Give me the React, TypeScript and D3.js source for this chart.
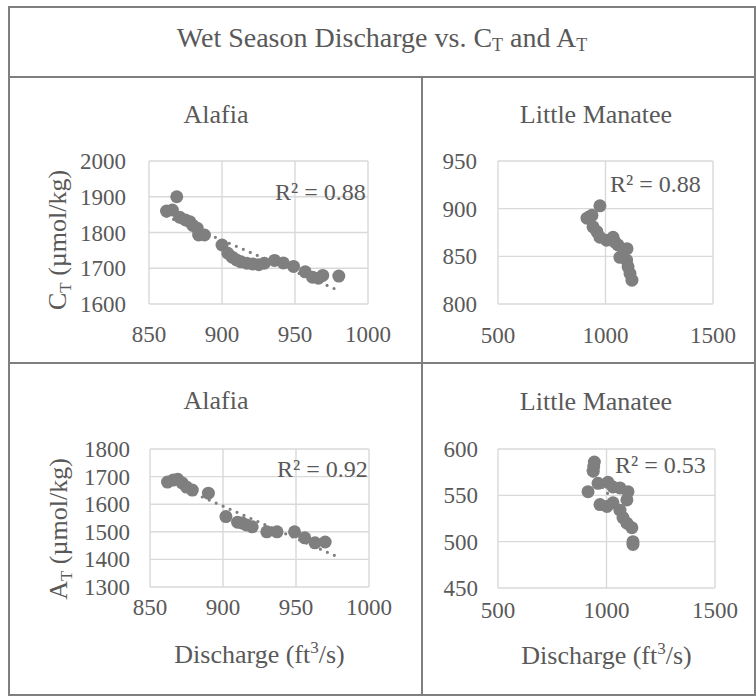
import React from "react";
import * as d3 from "d3";

// ---------- data ----------
const alafiaQ_CT = [862, 866, 869, 871, 875, 878, 880, 883, 884, 888, 900, 904, 907, 910, 913, 917, 921, 925, 929, 936, 942, 949, 957, 962, 966, 969, 980];
const alafiaCT = [1860, 1863, 1900, 1843, 1835, 1830, 1820, 1812, 1793, 1793, 1765, 1742, 1731, 1723, 1718, 1714, 1712, 1710, 1714, 1722, 1715, 1705, 1690, 1675, 1672, 1680, 1678];

const manateeQ_CT = [914, 937, 942, 960, 974, 974, 1005, 1035, 1044, 1058, 1067, 1098, 1100, 1105, 1114, 1123];
const manateeCT = [890, 893, 881, 876, 903, 870, 867, 870, 865, 862, 849, 846, 858, 839, 832, 825];

const alafiaQ_AT = [862, 866, 869, 872, 875, 879, 890, 902, 910, 913, 916, 920, 930, 937, 949, 956, 963, 970];
const alafiaAT = [1680, 1688, 1690, 1677, 1662, 1651, 1640, 1555, 1535, 1532, 1525, 1518, 1500, 1500, 1500, 1478, 1460, 1463];

const manateeQ_AT = [939, 941, 944, 915, 961, 1007, 1030, 1062, 1099, 970, 1002, 1030, 1094, 1062, 1076, 1094, 1117, 1122, 1122];
const manateeAT = [576, 581, 586, 554, 563, 564, 559, 558, 554, 540, 538, 542, 545, 534, 526, 520, 515, 500, 497];

const alafiaXTicks = [850, 900, 950, 1000];
const manateeXTicks = [500, 1000, 1500];
const alafiaCTTicks = [1600, 1700, 1800, 1900, 2000];
const manateeCTTicks = [800, 850, 900, 950];
const alafiaATTicks = [1300, 1400, 1500, 1600, 1700, 1800];
const manateeATTicks = [450, 500, 550, 600];

const r2Values = ["0.88", "0.88", "0.92", "0.53"];
const trendRanges: [number, number][] = [[862, 980], [914, 1123], [862, 978], [915, 1122]];

// ---------- styles ----------
const FONT = '"Liberation Serif", "Times New Roman", serif';
const TXT = "#595959";
const GRID = "#d9d9d9";
const MARK = "#7f7f7f";
const BORDER = "#7f7f7f";

function linFit(xs: number[], ys: number[]) {
  const mx = d3.mean(xs)!;
  const my = d3.mean(ys)!;
  let num = 0, den = 0;
  xs.forEach((x, i) => {
    num += (x - mx) * (ys[i] - my);
    den += (x - mx) * (x - mx);
  });
  const b = num / den;
  const a = my - b * mx;
  return (x: number) => a + b * x;
}

type Cfg = {
  plot: [number, number, number, number];
  xTicks: number[];
  yTicks: number[];
  xs: number[];
  ys: number[];
  trend: [number, number];
  title: string;
  titleX: number;
  titleY: number;
  r2: string;
  r2X: number;
  r2Y: number;
  yLabelX: number;
  xLabelY: number;
  yTitle?: "C" | "A";
  yTitleX?: number;
  yTitleY?: number;
  xTitle?: boolean;
  xTitleY?: number;
};

function Panel({ c }: { c: Cfg }) {
  const [l, t, r, b] = c.plot;
  const x = d3.scaleLinear().domain(d3.extent(c.xTicks) as [number, number]).range([l, r]);
  const y = d3.scaleLinear().domain(d3.extent(c.yTicks) as [number, number]).range([b, t]);
  const f = linFit(c.xs, c.ys);
  const line = d3.line<number>().x((d) => x(d)).y((d) => y(f(d)));
  return (
    <g style={{ fontFamily: FONT }} fill={TXT}>
      <text x={c.titleX} y={c.titleY} fontSize={26} textAnchor="middle">{c.title}</text>
      {c.yTicks.map((v) => (
        <line key={"gy" + v} x1={l} x2={r} y1={y(v)} y2={y(v)} stroke={GRID} strokeWidth={1.4} />
      ))}
      {c.xTicks.map((v) => (
        <line key={"gx" + v} x1={x(v)} x2={x(v)} y1={t} y2={b} stroke={GRID} strokeWidth={1.4} />
      ))}
      {c.yTicks.map((v) => (
        <text key={"ty" + v} x={c.yLabelX} y={y(v) + 8} fontSize={23} textAnchor="end">{v}</text>
      ))}
      {c.xTicks.map((v) => (
        <text key={"tx" + v} x={x(v)} y={c.xLabelY} fontSize={23} textAnchor="middle">{v}</text>
      ))}
      {c.xs.map((v, i) => (
        <circle key={"p" + i} cx={x(v)} cy={y(c.ys[i])} r={6.5} fill={MARK} />
      ))}
      <path d={line(c.trend) || ""} fill="none" stroke={MARK} strokeWidth={3.2} strokeLinecap="round" strokeDasharray="0 7.6" />
      <text x={c.r2X} y={c.r2Y} fontSize={24}>{"R² = " + c.r2}</text>
      {c.yTitle && (
        <text transform={`translate(${c.yTitleX},${c.yTitleY}) rotate(-90)`} fontSize={26} textAnchor="middle">
          {c.yTitle}
          <tspan fontSize={17} dy={5}>T</tspan>
          <tspan dy={-5}>{" (µmol/kg)"}</tspan>
        </text>
      )}
      {c.xTitle && (
        <text x={(l + r) / 2} y={c.xTitleY} fontSize={26} textAnchor="middle">
          {"Discharge (ft"}
          <tspan fontSize={17} dy={-10}>3</tspan>
          <tspan dy={10}>{"/s)"}</tspan>
        </text>
      )}
    </g>
  );
}

const panels: Cfg[] = [
  {
    plot: [149, 161, 368, 304], xTicks: alafiaXTicks, yTicks: alafiaCTTicks,
    xs: alafiaQ_CT, ys: alafiaCT, trend: trendRanges[0],
    title: "Alafia", titleX: 216, titleY: 123, r2: r2Values[0], r2X: 275, r2Y: 200,
    yLabelX: 126, xLabelY: 342, yTitle: "C", yTitleX: 66, yTitleY: 240,
  },
  {
    plot: [498, 161, 713, 304], xTicks: manateeXTicks, yTicks: manateeCTTicks,
    xs: manateeQ_CT, ys: manateeCT, trend: trendRanges[1],
    title: "Little Manatee", titleX: 596, titleY: 123, r2: r2Values[1], r2X: 610, r2Y: 192,
    yLabelX: 477, xLabelY: 343,
  },
  {
    plot: [150, 449, 369, 587], xTicks: alafiaXTicks, yTicks: alafiaATTicks,
    xs: alafiaQ_AT, ys: alafiaAT, trend: trendRanges[2],
    title: "Alafia", titleX: 216, titleY: 409, r2: r2Values[2], r2X: 277, r2Y: 477,
    yLabelX: 130, xLabelY: 615, yTitle: "A", yTitleX: 67, yTitleY: 529, xTitle: true, xTitleY: 663,
  },
  {
    plot: [498, 449, 715, 588], xTicks: manateeXTicks, yTicks: manateeATTicks,
    xs: manateeQ_AT, ys: manateeAT, trend: trendRanges[3],
    title: "Little Manatee", titleX: 596, titleY: 410, r2: r2Values[3], r2X: 615, r2Y: 473,
    yLabelX: 478, xLabelY: 618, xTitle: true, xTitleY: 664,
  },
];

export default function App() {
  return (
    <svg width={756} height={696} style={{ position: "absolute", left: 0, top: 0, background: "#fff" }}>
      <rect x={0} y={0} width={756} height={696} fill="#fff" />
      <g fill="none" stroke={BORDER} strokeWidth={2}>
        <rect x={9} y={7} width={746} height={70} />
        <rect x={9} y={77} width={746} height={618} />
        <line x1={9} x2={755} y1={363} y2={363} />
        <line x1={422} x2={422} y1={77} y2={695} />
      </g>
      <text x={382} y={47} style={{ fontFamily: FONT }} fontSize={28} fill={TXT} textAnchor="middle">
        {"Wet Season Discharge vs. C"}
        <tspan fontSize={18} dy={4}>T</tspan>
        <tspan dy={-4}>{" and A"}</tspan>
        <tspan fontSize={18} dy={4}>T</tspan>
      </text>
      {panels.map((c, i) => (
        <Panel key={i} c={c} />
      ))}
    </svg>
  );
}
